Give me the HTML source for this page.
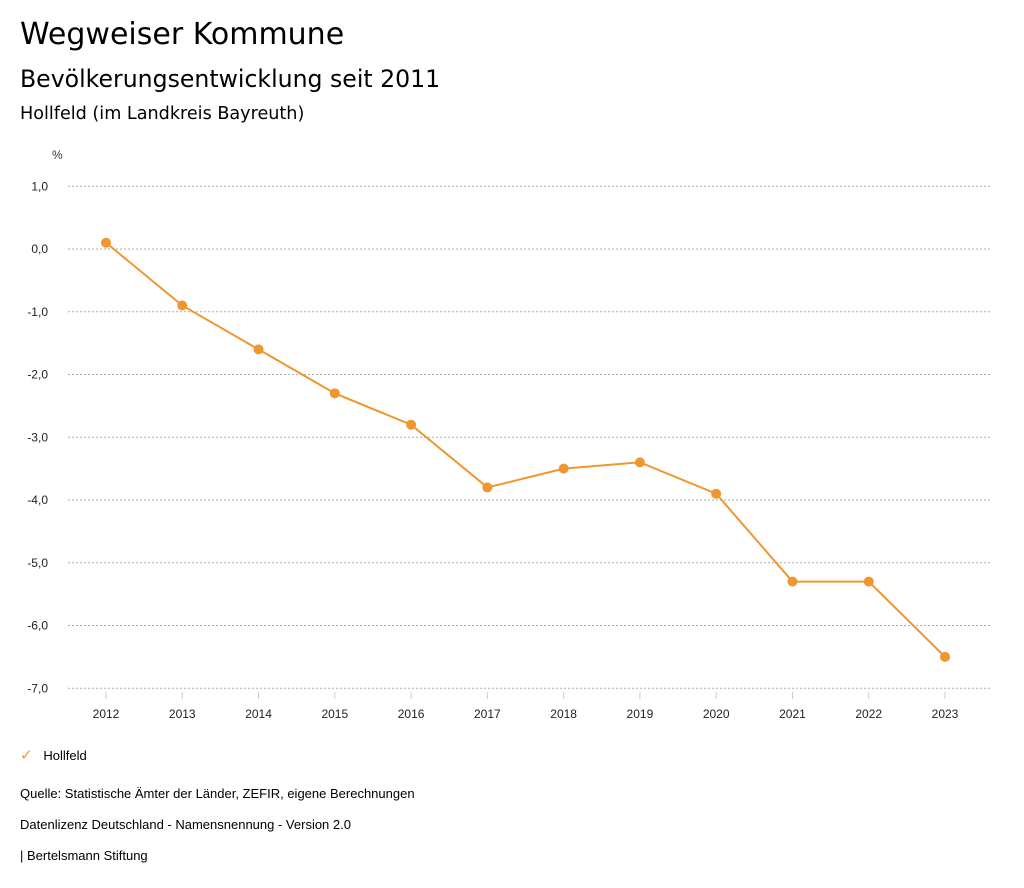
<!DOCTYPE html>
<html><head><meta charset="utf-8"><style>
body{margin:0;width:1024px;height:888px;background:#fff;font-family:"Liberation Sans","DejaVu Sans",sans-serif;color:#000;position:relative;overflow:hidden}
.t{position:absolute;left:20px;white-space:nowrap}
.h{font-family:"DejaVu Sans",sans-serif}
</style></head><body>
<div class="t h" style="top:17px;font-size:30px">Wegweiser Kommune</div>
<div class="t h" style="top:65px;font-size:23.6px">Bevölkerungsentwicklung seit 2011</div>
<div class="t h" style="top:104px;font-size:17.6px">Hollfeld (im Landkreis Bayreuth)</div>
<svg width="1024" height="888" style="position:absolute;left:0;top:0" font-family="Liberation Sans, sans-serif">
<g id="axes"></g><g id="marks"></g>
</svg>
<div class="t" style="top:746px;font-size:13px"><span style="color:#f0962e;font-size:15px">✓</span>&nbsp;&nbsp;&nbsp;Hollfeld</div>
<div class="t" style="top:786px;font-size:13px">Quelle: Statistische Ämter der Länder, ZEFIR, eigene Berechnungen</div>
<div class="t" style="top:817px;font-size:13px">Datenlizenz Deutschland - Namensnennung - Version 2.0</div>
<div class="t" style="top:848px;font-size:13px">| Bertelsmann Stiftung</div>
<script>
const years=["2012","2013","2014","2015","2016","2017","2018","2019","2020","2021","2022","2023"];
const values=[0.1,-0.9,-1.6,-2.3,-2.8,-3.8,-3.5,-3.4,-3.9,-5.3,-5.3,-6.5];
const yTicks=[1,0,-1,-2,-3,-4,-5,-6,-7];
const NS="http://www.w3.org/2000/svg";
function x(i){return 106+i*(945-106)/11;}
function y(v){return 249-v*62.75;}
const ax=document.getElementById('axes'),mk=document.getElementById('marks');
function el(t,a,p){const e=document.createElementNS(NS,t);for(const k in a)e.setAttribute(k,a[k]);p.appendChild(e);return e;}
const u=el('text',{x:52,y:159,'font-size':12,fill:'#333'},ax);u.textContent='%';


yTicks.forEach(v=>{
 const g=el('line',{x1:68,x2:990,y1:y(v),y2:y(v),stroke:'#aaa','stroke-dasharray':'2,2'},ax);
 
 
 const t=el('text',{x:48,y:y(v)+4,'font-size':12,'text-anchor':'end',fill:'#222'},ax);
 t.textContent=v.toFixed(1).replace('.',',');
 
 
});
years.forEach((yr,i)=>{
 el('line',{x1:x(i),x2:x(i),y1:692,y2:699,stroke:'#ccc'},ax);
 const t=el('text',{x:x(i),y:718,'font-size':12,'text-anchor':'middle',fill:'#222'},ax);
 t.textContent=yr;
 
 
});
const pl=el('polyline',{points:values.map((v,i)=>x(i)+','+y(v)).join(' '),fill:'none',stroke:'#f0962e','stroke-width':2},mk);


values.forEach((v,i)=>{
 const c=el('circle',{cx:x(i),cy:y(v),r:5,fill:'#f0962e'},mk);
 
 
});
</script>
</body></html>
